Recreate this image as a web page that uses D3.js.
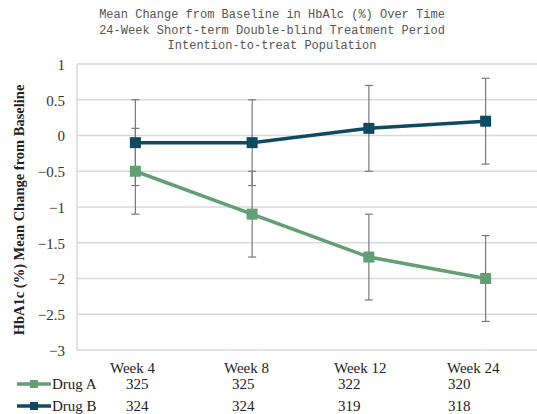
<!DOCTYPE html>
<html><head><meta charset="utf-8">
<script src="https://cdn.jsdelivr.net/npm/d3@7"></script>
<style>body{margin:0;background:#fff}svg{display:block}</style>
</head><body>
<script>
const titleLines = ["Mean Change from Baseline in HbAlc (%) Over Time","24-Week Short-term Double-blind Treatment Period","Intention-to-treat Population"];
const categories = ["Week 4","Week 8","Week 12","Week 24"];
const seriesNames = ["Drug A","Drug B"];
const drugAMean = [-0.5,-1.1,-1.7,-2.0];
const drugAErr = [0.6,0.6,0.6,0.6];
const drugBMean = [-0.1,-0.1,0.1,0.2];
const drugBErr = [0.6,0.6,0.6,0.6];
const drugAN = [325,325,322,320];
const drugBN = [324,324,319,318];
const yTicks = [1,0.5,0,-0.5,-1,-1.5,-2,-2.5,-3];
const yTitle = "HbA1c (%) Mean Change from Baseline";
const colors = ["#629f72","#0e4b63"];

(function(){
const W=537,H=414;
const serif="'Liberation Serif','Times New Roman',serif";
const svg=d3.select("body").append("svg").attr("width",W).attr("height",H);
const pL=77, pR=544, pT=64, pB=350;
const x=d3.scaleBand().domain(categories).range([pL,pR]);
const y=d3.scaleLinear().domain([-3,1]).range([pB,pT]);
const cx=c=>x(c)+x.bandwidth()/2;

// title
svg.append("g").selectAll("text").data(titleLines).join("text")
  .attr("x",272).attr("y",(d,i)=>18+i*15.5).attr("text-anchor","middle")
  .style("font-family","'Liberation Mono', monospace").attr("font-size",12).attr("fill","#555")
  .text(d=>d);

// gridlines
svg.append("g").selectAll("line").data(yTicks).join("line")
  .attr("x1",pL).attr("x2",W).attr("y1",d=>y(d)).attr("y2",d=>y(d))
  .attr("stroke","#d9d9d9").attr("stroke-width",1.5);
svg.append("line").attr("x1",pL).attr("x2",pL).attr("y1",pT).attr("y2",pB)
  .attr("stroke","#d9d9d9").attr("stroke-width",1.5);

// y axis labels
const yAxis=d3.axisLeft(y).tickValues(yTicks).tickSize(0).tickPadding(0).tickFormat(d=>d3.format("")(d));
const ga=svg.append("g").attr("transform",`translate(${pL-12},0)`).call(yAxis);
ga.select(".domain").remove();
ga.selectAll("text").style("font-family",serif).style("font-size","15px").attr("fill","#333").attr("dy","0.35em");

svg.append("text").attr("transform",`translate(24,${(pT+pB)/2+3}) rotate(-90)`)
  .attr("text-anchor","middle").style("font-family",serif)
  .attr("font-weight","bold").style("font-size","14.5px").attr("fill","#222").text(yTitle);

const series=[
  {name:seriesNames[0],mean:drugAMean,err:drugAErr,n:drugAN,color:colors[0]},
  {name:seriesNames[1],mean:drugBMean,err:drugBErr,n:drugBN,color:colors[1]}
];

// error bars
series.forEach(s=>{
  const g=svg.append("g").attr("stroke","#7a7a7a").attr("stroke-width",1.2);
  categories.forEach((c,i)=>{
    const hi=y(s.mean[i]+s.err[i]), lo=y(s.mean[i]-s.err[i]);
    g.append("line").attr("x1",cx(c)).attr("x2",cx(c)).attr("y1",hi).attr("y2",lo);
    g.append("line").attr("x1",cx(c)-4).attr("x2",cx(c)+4).attr("y1",hi).attr("y2",hi);
    g.append("line").attr("x1",cx(c)-4).attr("x2",cx(c)+4).attr("y1",lo).attr("y2",lo);
  });
});

// lines + markers
const line=d3.line().x((d,i)=>cx(categories[i])).y(d=>y(d));
series.forEach(s=>{
  svg.append("path").attr("d",line(s.mean)).attr("fill","none").attr("stroke",s.color).attr("stroke-width",3.5);
  svg.append("g").selectAll("rect").data(s.mean).join("rect")
    .attr("x",(d,i)=>cx(categories[i])-5.5).attr("y",d=>y(d)-5.5).attr("width",11).attr("height",11)
    .attr("fill",s.color);
});

// table below
const labelX=[110,224,334,447];
const numX=[126,232,338,448];
svg.append("g").selectAll("text").data(categories).join("text")
  .attr("x",(d,i)=>labelX[i]).attr("y",373).style("font-family",serif).style("font-size","15px").attr("fill","#222").text(d=>d);
const rowY=[389,411];
series.forEach((s,si)=>{
  const yy=rowY[si];
  svg.append("line").attr("x1",17).attr("x2",51).attr("y1",yy-5).attr("y2",yy-5).attr("stroke",s.color).attr("stroke-width",3.5);
  svg.append("rect").attr("x",30).attr("y",yy-9).attr("width",8).attr("height",8).attr("fill",s.color);
  svg.append("text").attr("x",52).attr("y",yy).style("font-family",serif).style("font-size","15px").attr("fill","#222").text(s.name);
  svg.append("g").selectAll("text").data(s.n).join("text")
    .attr("x",(d,i)=>numX[i]).attr("y",yy).style("font-family",serif).style("font-size","15px").attr("fill","#222").text(d=>d);
});
})();
</script>
</body></html>
